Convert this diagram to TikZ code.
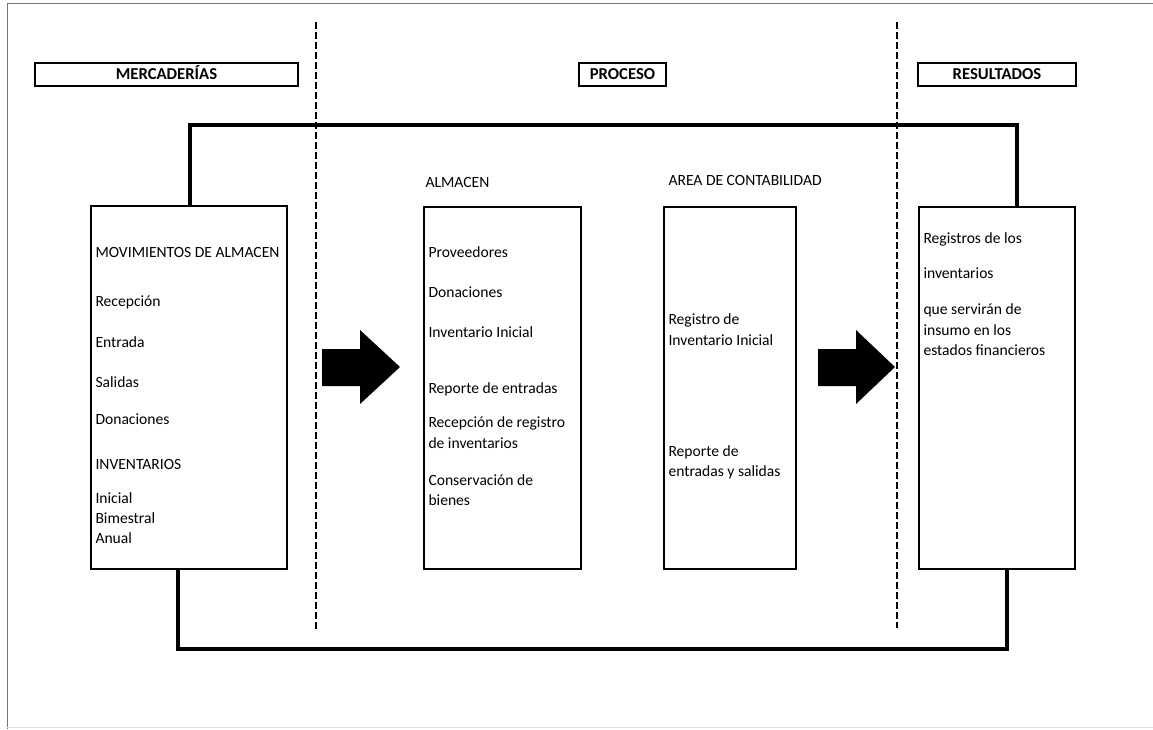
\documentclass[tikz,border=0pt]{standalone}
\usepackage{fontspec}
\setmainfont{Carlito}
\usetikzlibrary{positioning}

\tikzset{every picture/.style={line width=0.75pt}}
\tikzset{
  panel/.style={draw, line width=1.3pt, rectangle, inner sep=0pt},
  header/.style={draw, line width=1.3pt, rectangle, inner sep=0pt, text height=8.6pt, text depth=0.4pt, font=\fontsize{12.5}{14}\selectfont\bfseries},
  item/.style={anchor=west, inner sep=0pt, font=\fontsize{11.7}{13}\selectfont},
  link/.style={line width=2.4pt, line cap=rect},
  divider/.style={line width=1.1pt, dash pattern=on 5pt off 2.5pt}
}

\begin{document}
\begin{tikzpicture}[x=0.75pt,y=0.75pt,yscale=-1,xscale=1]
\useasboundingbox (0,0) rectangle (1153,729);

% page frame
\draw [color=black!55] (7,729) -- (7,3) -- (1153,3) ;
\draw [color=black!12] (7,727) -- (1153,727) ;

% column dividers
\draw [divider] (316,22) -- (316,630) ;
\draw [divider] (897,22) -- (897,628) ;

% headers
\node [header, minimum width=197.25pt, minimum height=17.25pt] (merc) at (166.5,74.5) {MERCADERÍAS};
\node [header, minimum width=65.25pt, minimum height=17.25pt] (proc) at (622.5,74.5) {PROCESO};
\node [header, minimum width=118.5pt, minimum height=17.25pt] (resu) at (997,74.5) {RESULTADOS};

% boxes
\node [panel, minimum width=147pt, minimum height=272.25pt] (mov) at (189,387.5) {};
\node [panel, minimum width=117.75pt, minimum height=271.5pt] (alm) at (502.5,388) {};
\node [panel, minimum width=99pt, minimum height=271.5pt] (cont) at (730,388) {};
\node [panel, minimum width=117pt, minimum height=271.5pt] (res) at (997,388) {};

% column titles
\node [item] (almT) at (425,182) {ALMACEN};
\node [item] (contT) at (668,180) {AREA DE CONTABILIDAD};

% box texts
\foreach \y/\t [count=\i] in {252/MOVIMIENTOS DE ALMACEN, 302/Recepción, 342/Entrada, 382/Salidas, 419/Donaciones, 464/INVENTARIOS, 498/Inicial, 518/Bimestral, 538/Anual}
  \node [item] (m\i) at (95,\y) {\t};
\foreach \y/\t [count=\i] in {252/Proveedores, 292/Donaciones, 332/Inventario Inicial, 389/Reporte de entradas, 423/Recepción de registro, 443/de inventarios, 480/Conservación de, 500/bienes}
  \node [item] (a\i) at (428,\y) {\t};
\foreach \y/\t [count=\i] in {320/Registro de, 340/Inventario Inicial, 452/Reporte de, 472/entradas y salidas}
  \node [item] (c\i) at (668,\y) {\t};
\foreach \y/\t [count=\i] in {239/Registros de los, 273/inventarios, 310/que servirán de, 330/insumo en los, 350/estados financieros}
  \node [item] (r\i) at (923,\y) {\t};

% feedback loop
\coordinate (topL) at (190,125);
\coordinate (topR) at (1017,125);
\coordinate (botL) at (178,649);
\coordinate (botR) at (1007,649);
\draw [link] (mov.north -| topL) -- (topL) -- (topR) -- (res.north -| topR) ;
\draw [link] (mov.south -| botL) -- (botL) -- (botR) -- (res.south -| botR) ;

% block arrows
\fill (322,349) -- (360,349) -- (360,330) -- (400,367) -- (360,404) -- (360,386) -- (322,386) -- cycle ;
\fill (818,349) -- (856,349) -- (856,330) -- (895,367) -- (856,404) -- (856,386) -- (818,386) -- cycle ;

\end{tikzpicture}
\end{document}
